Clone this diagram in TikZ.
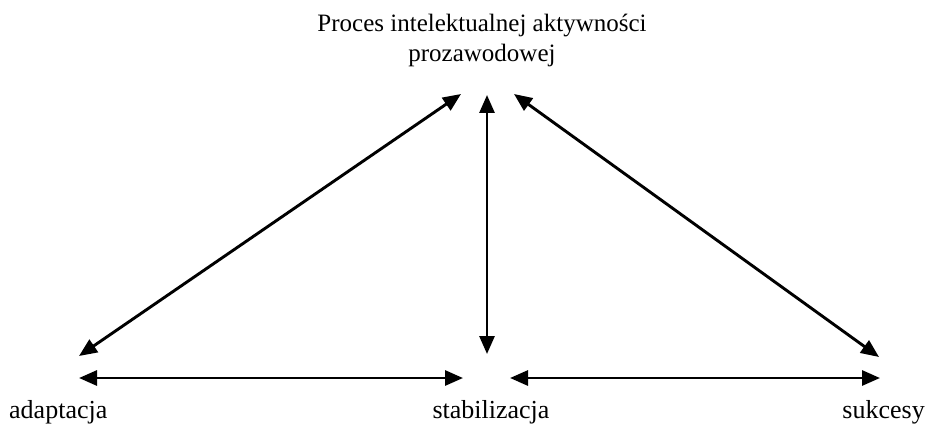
\documentclass[tikz,border=0pt]{standalone}
\usepackage{fontspec}
\setmainfont{Liberation Serif}
\usetikzlibrary{arrows.meta}
\begin{document}
\begin{tikzpicture}[x=1pt,y=-1pt,
  ttl/.style={inner sep=0pt,font=\fontsize{25}{30}\selectfont,align=center},
  lbl/.style={inner sep=0pt,font=\fontsize{26}{30}\selectfont},
  link/.style={line width=2.9pt,{Triangle[length=18pt,width=15pt]}-{Triangle[length=18pt,width=15pt]}}]
\useasboundingbox (0,0) rectangle (928,425);
\node[ttl] (top) at (482,40) {Proces intelektualnej aktywności\\prozawodowej};
\node[lbl,anchor=base west] (ad) at (9,418) {adaptacja};
\node[lbl,anchor=base] (st) at (491,418) {stabilizacja};
\node[lbl,anchor=base east] (su) at (925,418) {sukcesy};
\coordinate (tl) at (461,94);
\coordinate (tm) at (487,95);
\coordinate (tr) at (514,94);
\coordinate (adup) at (79,356);
\coordinate (ad1) at (79,378);
\coordinate (stup) at (487,354);
\coordinate (stl) at (463,378);
\coordinate (str) at (510,378);
\coordinate (suup) at (879,357);
\coordinate (su1) at (880,378);
\draw[link] (adup) -- (tl);
\draw[link] (stup) -- (tm);
\draw[link] (suup) -- (tr);
\draw[link] (ad1) -- (stl);
\draw[link] (str) -- (su1);
\end{tikzpicture}
\end{document}
